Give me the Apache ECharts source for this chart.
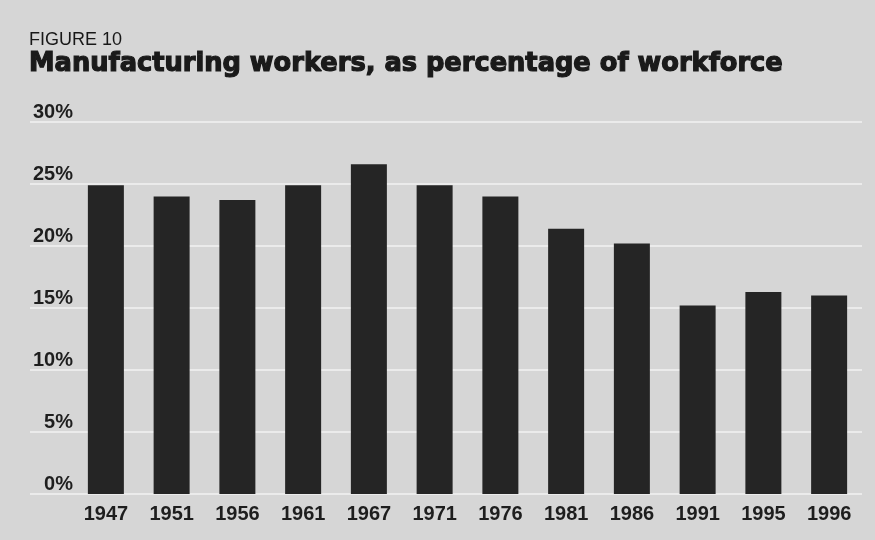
<!DOCTYPE html>
<html>
<head>
<meta charset="utf-8">
<script src="https://cdn.jsdelivr.net/npm/echarts@6/dist/echarts.min.js"></script>
<style>
  html, body { margin: 0; padding: 0; background: #d6d6d6; }
  #chart { width: 875px; height: 540px; }
</style>
</head>
<body>
<div id="chart"></div>
<script>
// Survey years and manufacturing share of the workforce (%)
const years = ['1947', '1951', '1956', '1961', '1967', '1971', '1976', '1981', '1986', '1991', '1995', '1996'];
const manufacturingShare = [24.9, 24.0, 23.7, 24.9, 26.6, 24.9, 24.0, 21.4, 20.2, 15.2, 16.3, 16.0];
const yTicks = { min: 0, max: 30, interval: 5 };

const chart = echarts.init(document.getElementById('chart'), null, { renderer: 'canvas' });

const labelFont = 'Liberation Sans, Arial, Helvetica, sans-serif';
const ink = '#1e1e1e';

chart.setOption({
  backgroundColor: '#d6d6d6',
  animation: false,
  title: [
    {
      text: 'FIGURE 10',
      left: 29, top: 31, padding: 0,
      textStyle: { fontFamily: labelFont, fontSize: 18, fontWeight: 'normal', color: '#181818' }
    },
    {
      text: 'Manufacturing workers, as percentage of workforce',
      left: 29, top: 51, padding: 0,
      textStyle: {
        fontFamily: 'DejaVu Sans, sans-serif', fontSize: 25.7, fontWeight: 'bold', color: '#1a1a1a',
        textBorderColor: '#1a1a1a', textBorderWidth: 1.2
      }
    }
  ],
  grid: [
    // plot area holding the bars and tick labels
    { left: 73, right: 13, top: 122, bottom: 46, containLabel: false },
    // wider band so the horizontal rules run out under the tick labels
    { left: 30, right: 13, top: 122, bottom: 46, containLabel: false }
  ],
  xAxis: [
    {
      type: 'category', gridIndex: 0, data: years,
      axisLine: { show: false }, axisTick: { show: false },
      axisLabel: { margin: 10, fontFamily: labelFont, fontSize: 20, fontWeight: 'bold', color: ink }
    },
    {
      type: 'value', gridIndex: 1, min: 0, max: 1,
      show: false
    }
  ],
  yAxis: [
    {
      type: 'value', gridIndex: 0,
      min: yTicks.min, max: yTicks.max, interval: yTicks.interval,
      axisLine: { show: false }, axisTick: { show: false },
      splitLine: { show: false },
      axisLabel: {
        formatter: '{value}%', margin: 0, align: 'right', verticalAlign: 'bottom',
        fontFamily: labelFont, fontSize: 20, fontWeight: 'bold', color: ink
      }
    },
    {
      type: 'value', gridIndex: 1,
      min: yTicks.min, max: yTicks.max, interval: yTicks.interval,
      axisLine: { show: false }, axisTick: { show: false }, axisLabel: { show: false },
      splitLine: { show: true, lineStyle: { color: '#f2f2f2', width: 1.5 } }
    }
  ],
  series: [
    {
      type: 'bar', xAxisIndex: 0, yAxisIndex: 0,
      data: manufacturingShare,
      barWidth: 36,
      itemStyle: { color: '#252525' },
      z: 5
    }
  ]
});
</script>
</body>
</html>
